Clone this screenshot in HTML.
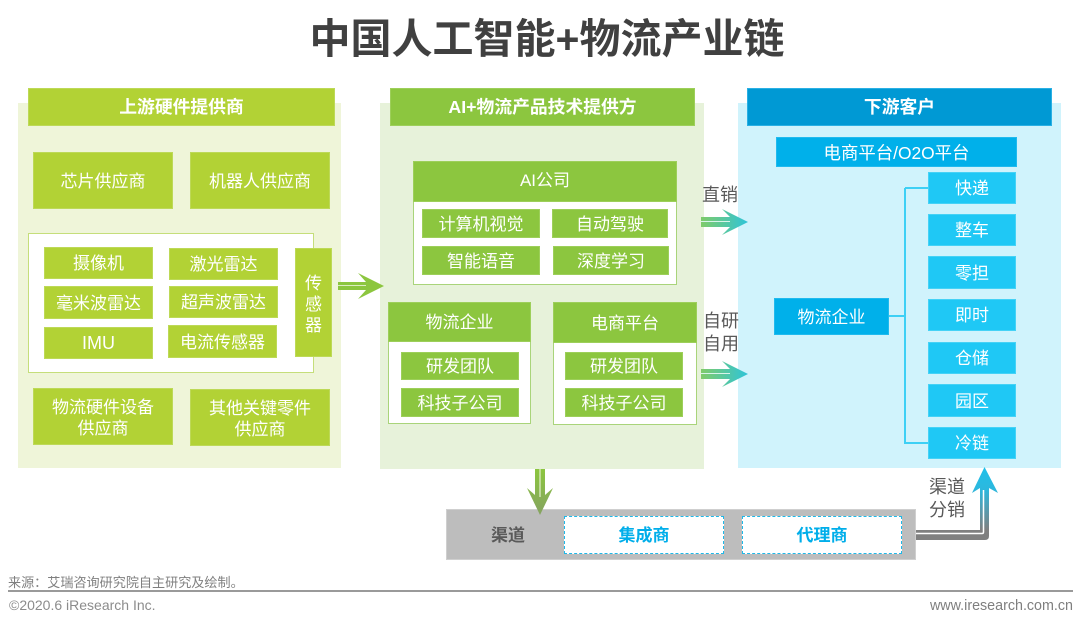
<!DOCTYPE html>
<html lang="zh-CN">
<head>
<meta charset="utf-8">
<title>中国人工智能+物流产业链</title>
<style>
html,body{margin:0;padding:0;background:#fff}
#c{position:relative;width:1080px;height:626px;overflow:hidden;background:#fff;font-family:"Liberation Sans","Noto Sans CJK SC",sans-serif;filter:blur(.35px)}
#c div{position:absolute;box-sizing:border-box;display:flex;align-items:center;justify-content:center;text-align:center;white-space:nowrap;line-height:1.2}
.p{color:#fff;font-size:17px;padding-top:3px}
.g{background:#b2d235;border:1px solid #bdd957}
.m{background:#8cc63f;border:1px solid #9dcf5a}
.b{background:#00b0ea;border:1px solid #20baee}
.s{background:#1fc8f5;border:1px solid #45d2f6}
.h{color:#fff;font-size:17.8px;font-weight:700;padding-top:2px}
.w{background:#fff;border:1px solid #a9d47a}
.t{color:#595959;font-size:18px;line-height:23px!important}
.d{background:#fff;border:1px dashed #1fb8e8;color:#00aeea;font-size:17px;font-weight:700;padding-top:2px}
svg{position:absolute;left:0;top:0}
</style>
</head>
<body>
<div id="c">
<div style="left:298px;top:15px;width:498px;height:50px;font-size:41px;font-weight:700;color:#404040">中国人工智能+物流产业链</div>

<div style="left:18px;top:103px;width:323px;height:365px;background:#eff5d9"></div>
<div class="g h" style="left:28px;top:88px;width:307px;height:38px">上游硬件提供商</div>
<div class="g p" style="left:33px;top:152px;width:140px;height:57px">芯片供应商</div>
<div class="g p" style="left:190px;top:152px;width:140px;height:57px">机器人供应商</div>
<div style="left:28px;top:233px;width:286px;height:140px;background:#fff;border:1px solid #c5de7a"></div>
<div class="g p" style="left:44px;top:247px;width:109px;height:32px">摄像机</div>
<div class="g p" style="left:169px;top:248px;width:109px;height:32px">激光雷达</div>
<div class="g p" style="left:44px;top:286px;width:109px;height:33px">毫米波雷达</div>
<div class="g p" style="left:169px;top:286px;width:109px;height:32px">超声波雷达</div>
<div class="g p" style="left:44px;top:327px;width:109px;height:32px;padding-top:1px;font-size:18px">IMU</div>
<div class="g p" style="left:168px;top:325px;width:109px;height:33px">电流传感器</div>
<div class="g p" style="left:295px;top:248px;width:37px;height:109px;line-height:21px">传<br>感<br>器</div>
<div class="g p" style="left:33px;top:388px;width:140px;height:57px;line-height:21px">物流硬件设备<br>供应商</div>
<div class="g p" style="left:190px;top:389px;width:140px;height:57px;line-height:21px">其他关键零件<br>供应商</div>

<div style="left:380px;top:103px;width:324px;height:366px;background:#e7f2da"></div>
<div class="m h" style="left:390px;top:88px;width:305px;height:38px">AI+物流产品技术提供方</div>
<div class="w" style="left:413px;top:161px;width:264px;height:124px"></div>
<div class="m p" style="left:413px;top:161px;width:264px;height:41px;padding-top:0">AI公司</div>
<div class="m p" style="left:422px;top:209px;width:118px;height:29px">计算机视觉</div>
<div class="m p" style="left:552px;top:209px;width:116px;height:29px">自动驾驶</div>
<div class="m p" style="left:422px;top:246px;width:118px;height:29px">智能语音</div>
<div class="m p" style="left:553px;top:246px;width:116px;height:29px">深度学习</div>
<div class="w" style="left:388px;top:302px;width:143px;height:122px"></div>
<div class="m p" style="left:388px;top:302px;width:143px;height:40px">物流企业</div>
<div class="m p" style="left:401px;top:352px;width:118px;height:28px">研发团队</div>
<div class="m p" style="left:401px;top:388px;width:118px;height:29px">科技子公司</div>
<div class="w" style="left:553px;top:302px;width:144px;height:123px"></div>
<div class="m p" style="left:553px;top:302px;width:144px;height:41px">电商平台</div>
<div class="m p" style="left:565px;top:352px;width:118px;height:28px">研发团队</div>
<div class="m p" style="left:565px;top:388px;width:118px;height:29px">科技子公司</div>

<div style="left:738px;top:103px;width:323px;height:365px;background:#d0f3fc"></div>
<div class="h" style="left:747px;top:88px;width:305px;height:38px;background:#0099d4;border:1px solid #2ab0e4">下游客户</div>
<div class="b p" style="left:776px;top:137px;width:241px;height:30px;font-size:17.4px">电商平台/O2O平台</div>
<div class="b p" style="left:774px;top:298px;width:115px;height:37px">物流企业</div>
<div class="s p" style="left:928px;top:172px;width:88px;height:32px">快递</div>
<div class="s p" style="left:928px;top:214px;width:88px;height:32px">整车</div>
<div class="s p" style="left:928px;top:256px;width:88px;height:33px">零担</div>
<div class="s p" style="left:928px;top:299px;width:88px;height:32px">即时</div>
<div class="s p" style="left:928px;top:342px;width:88px;height:32px">仓储</div>
<div class="s p" style="left:928px;top:384px;width:88px;height:33px">园区</div>
<div class="s p" style="left:928px;top:427px;width:88px;height:32px">冷链</div>

<div style="left:446px;top:509px;width:470px;height:51px;background:#bdbdbd;border:1px solid #cfcfcf"></div>
<div style="left:480px;top:523px;width:56px;height:26px;color:#595959;font-size:17px;font-weight:700">渠道</div>
<div class="d" style="left:564px;top:516px;width:160px;height:38px">集成商</div>
<div class="d" style="left:742px;top:516px;width:160px;height:38px">代理商</div>

<svg width="1080" height="626" viewBox="0 0 1080 626">
<defs>
<linearGradient id="a1" x1="0" y1="0" x2="1" y2="0"><stop offset="0" stop-color="#7fcb6a"/><stop offset="1" stop-color="#2fc4d8"/></linearGradient>
<linearGradient id="a2" gradientUnits="userSpaceOnUse" x1="540" y1="469" x2="540" y2="515"><stop offset="0" stop-color="#8cc63f"/><stop offset="1" stop-color="#85a360"/></linearGradient>
<linearGradient id="a3" gradientUnits="userSpaceOnUse" x1="985" y1="467" x2="985" y2="530"><stop offset="0" stop-color="#1fc0ea"/><stop offset=".35" stop-color="#2cb8de"/><stop offset="1" stop-color="#808080"/></linearGradient>
</defs>
<path d="M905 188H928M905 188V443H928M889 316H905" fill="none" stroke="#3dd0f5" stroke-width="2"/>

<path d="M338 282H366L358 273L384 286L358 299L366 290H338Z" fill="#8cc63f"/>
<path d="M338 285.5H366" stroke="#dcedc0" stroke-width="1"/>

<path d="M701 217H730L722 209L748 222L722 235L730 227H701Z" fill="url(#a1)"/>
<path d="M701 221.5H730" stroke="#d8f3ea" stroke-width="1"/>
<path d="M701 369H730L722 361L748 374L722 387L730 379H701Z" fill="url(#a1)"/>
<path d="M701 373.5H730" stroke="#d8f3ea" stroke-width="1"/>

<path d="M535 469H545V495L553 488L540 515L527 488L535 495Z" fill="url(#a2)"/>
<path d="M540 469V497" stroke="#e4f0cf" stroke-width="1.2"/>

<path d="M916 530H980V488L972 493L984.500 467L998 493L989 488V536Q989 540 985 540H916Z" fill="url(#a3)"/>
<path d="M916 533.500H982Q983.500 533.500 983.500 532V490" fill="none" stroke="#fff" stroke-width="1.500"/>
</svg>

<div class="t" style="left:696px;top:184px;width:48px;height:23px">直销</div>
<div class="t" style="left:697px;top:310px;width:48px;height:46px">自研<br>自用</div>
<div class="t" style="left:923px;top:476px;width:48px;height:46px">渠道<br>分销</div>

<div style="left:8px;top:575px;height:16px;font-size:13.100px;color:#7f7f7f">来源：艾瑞咨询研究院自主研究及绘制。</div>
<div style="left:8px;top:590px;width:1065px;height:2px;background:#9a9a9a"></div>
<div style="left:9px;top:597px;height:16px;font-size:14px;color:#8c8c8c">©2020.6 iResearch Inc.</div>
<div style="left:930px;top:599px;width:143px;height:16px;font-size:14.300px;color:#7f7f7f;justify-content:flex-end">www.iresearch.com.cn</div>
</div>
</body>
</html>
